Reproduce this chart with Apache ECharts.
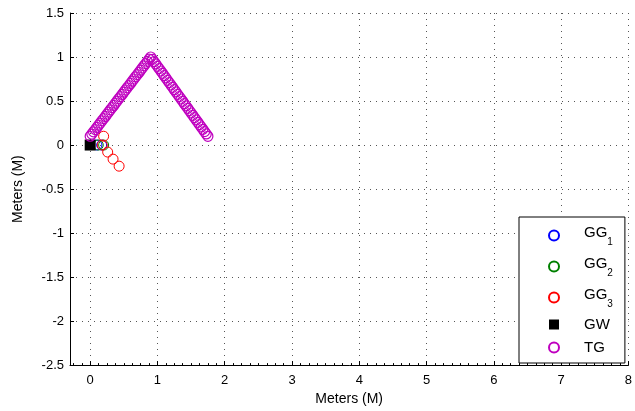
<!DOCTYPE html>
<html>
<head>
<meta charset="utf-8">
<script src="https://cdn.jsdelivr.net/npm/echarts@6/dist/echarts.min.js"></script>
<style>
  html, body { margin: 0; padding: 0; background: #fff; }
  #chart { width: 635px; height: 411px; }
</style>
</head>
<body>
<div id="chart"></div>
<script>
  // tick values
  const xTicks = [0, 1, 2, 3, 4, 5, 6, 7, 8]

  // GG1 / GG2 / GG3 / GW points [x, y] in meters
  const gg1 = [[0.1, 0], [0.17, 0]]
  const gg2 = [[0.12, 0], [0.2, 0]]
  const gg3 = [[0.2, 0.1], [0.18, 0], [0.26, -0.08], [0.34, -0.16], [0.43, -0.24]]
  const gw = [[0, 0]]

  // TG track
  const tgX = [
    0, 0.025, 0.05, 0.075, 0.1, 0.125, 0.15, 0.175, 0.2, 0.225, 0.25, 0.275,
    0.3, 0.325, 0.35, 0.375, 0.4, 0.425, 0.45, 0.475, 0.5, 0.525, 0.55, 0.575,
    0.6, 0.625, 0.65, 0.675, 0.7, 0.725, 0.75, 0.775, 0.8, 0.825, 0.85, 0.875, 0.9,
    0.925, 0.95, 0.975, 1.0, 1.025, 1.05, 1.075, 1.1, 1.125, 1.15, 1.175, 1.2,
    1.225, 1.25, 1.275, 1.3, 1.325, 1.35, 1.375, 1.4, 1.425, 1.45, 1.475, 1.5,
    1.525, 1.55, 1.575, 1.6, 1.625, 1.65, 1.675, 1.7, 1.725, 1.75
  ]
  const tgY = [
    0.1, 0.125, 0.15, 0.175, 0.2, 0.225, 0.25, 0.275, 0.3, 0.325, 0.35, 0.375,
    0.4, 0.425, 0.45, 0.475, 0.5, 0.525, 0.55, 0.575, 0.6, 0.625, 0.65, 0.675,
    0.7, 0.725, 0.75, 0.775, 0.8, 0.825, 0.85, 0.875, 0.9, 0.925, 0.95, 0.975, 1.0,
    0.974, 0.947, 0.921, 0.894, 0.868, 0.841, 0.815, 0.788, 0.762, 0.735, 0.709, 0.682,
    0.656, 0.629, 0.603, 0.576, 0.55, 0.523, 0.497, 0.47, 0.444, 0.417, 0.391, 0.364,
    0.338, 0.311, 0.285, 0.258, 0.232, 0.205, 0.179, 0.152, 0.126, 0.099
  ]

  const FONT = 'Liberation Sans, Arial, sans-serif'

  // minor ticks every 1/8 on x
  const xMinor = []
  for (let i = -2; i < 64; i++) {
    if (i % 8 !== 0) xMinor.push(i / 8)
  }

  const ring = (color, w) => ({
    color: 'transparent',
    borderColor: color,
    borderWidth: w || 1,
    opacity: 1
  })

  const chart = echarts.init(document.getElementById('chart'), null, { renderer: 'canvas' })

  const option = {
    animation: false,
    backgroundColor: '#fff',
    textStyle: { fontFamily: FONT },
    grid: { left: 70, right: 5.5, top: 13, bottom: 44 },
    legend: {
      orient: 'vertical',
      left: 519,
      top: 217,
      padding: [7, 12, 8, 29],
      itemGap: 8,
      itemWidth: 50,
      itemHeight: 10,
      symbolKeepAspect: true,
      backgroundColor: '#fff',
      borderColor: '#000',
      borderWidth: 1,
      borderRadius: 0,
      data: [
        'GG1', 'GG2', 'GG3',
        { name: 'GW', icon: 'path://M0 0H10V10H0Z', itemStyle: { color: '#000', opacity: 1 } },
        'TG'
      ],
      formatter: (name) => name.indexOf('GG') === 0
        ? '{m|GG}{s|' + name.slice(2) + '}'
        : '{n|' + name + '}',
      textStyle: {
        fontFamily: FONT,
        color: '#000',
        rich: {
          m: { fontSize: 15, lineHeight: 15, padding: [0, 0, 6, 0], fontFamily: FONT, color: '#000' },
          s: { fontSize: 10, lineHeight: 10, padding: [13, 0, 0, 0], fontFamily: FONT, color: '#000' },
          n: { fontSize: 15, lineHeight: 15, fontFamily: FONT, color: '#000' }
        }
      }
    },
    xAxis: [
      {
        type: 'value',
        min: -0.3,
        max: 8,
        name: 'Meters (M)',
        nameLocation: 'middle',
        nameGap: 26,
        nameTextStyle: { fontSize: 14, color: '#000', fontFamily: FONT },
        axisLine: { show: true, onZero: false, lineStyle: { color: '#000', width: 1 } },
        axisTick: { show: true, inside: true, length: 4, customValues: xTicks, lineStyle: { color: '#000' } },
        axisLabel: { customValues: xTicks, fontSize: 13, color: '#000', margin: 9, fontFamily: FONT },
        splitLine: { show: true, lineStyle: { color: '#555', type: [1, 5], width: 1 } }
      },
      {
        type: 'value',
        min: -0.3,
        max: 8,
        position: 'bottom',
        axisLine: { show: false, onZero: false },
        axisTick: { show: true, inside: true, length: 2, customValues: xMinor, lineStyle: { color: '#000' } },
        axisLabel: { show: false },
        splitLine: { show: false }
      }
    ],
    yAxis: {
      type: 'value',
      min: -2.5,
      max: 1.5,
      interval: 0.5,
      name: 'Meters (M)',
      nameLocation: 'middle',
      nameGap: 45,
      nameTextStyle: { fontSize: 14, color: '#000', fontFamily: FONT },
      axisLine: { show: true, onZero: false, lineStyle: { color: '#000', width: 1 } },
      axisTick: { show: true, inside: true, length: 4, lineStyle: { color: '#000' } },
      axisLabel: { fontSize: 13, color: '#000', margin: 6, fontFamily: FONT },
      splitLine: { show: true, lineStyle: { color: '#555', type: [1, 5], width: 1 } }
    },
    series: [
      { name: 'GG1', type: 'scatter', symbol: 'circle', symbolSize: 10, itemStyle: ring('#0000ff'), data: gg1 },
      { name: 'GG2', type: 'scatter', symbol: 'circle', symbolSize: 10, itemStyle: ring('#008000'), data: gg2 },
      { name: 'GG3', type: 'scatter', symbol: 'circle', symbolSize: 10, itemStyle: ring('#ff0000'), data: gg3 },
      { name: 'GW', type: 'scatter', symbol: 'rect', symbolSize: 11, itemStyle: { color: '#000', opacity: 1 }, data: gw },
      {
        name: 'TG',
        type: 'scatter',
        symbol: 'circle',
        symbolSize: 10,
        itemStyle: ring('#bf00bf', 1.2),
        data: tgX.map((x, i) => [x, tgY[i]])
      }
    ]
  }

  chart.setOption(option)
</script>
</body>
</html>
